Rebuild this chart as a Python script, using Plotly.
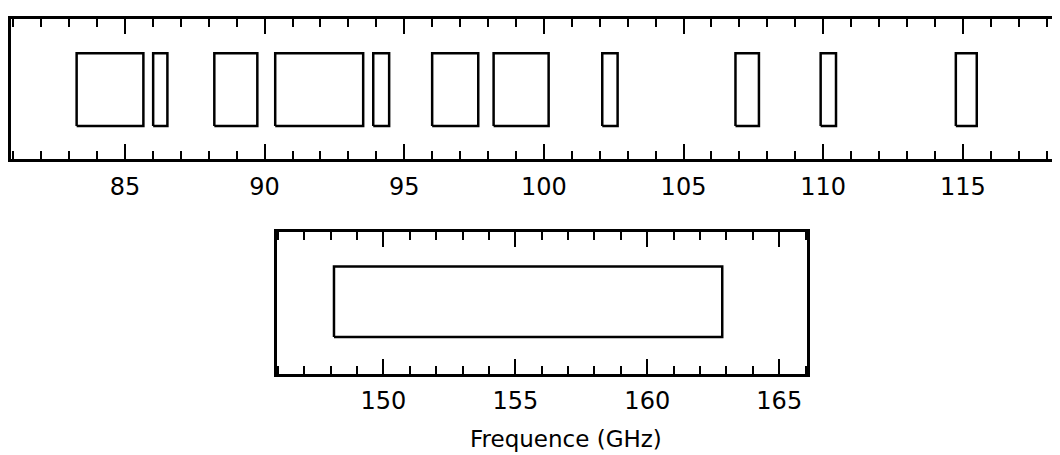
import plotly.graph_objects as go

# ---- data ----
# top panel: bands (GHz)
top_band_lo = [83.27, 86.01, 88.20, 90.38, 93.89, 96.00, 98.20, 102.09, 106.86, 109.91, 114.75]
top_band_hi = [85.66, 86.52, 89.74, 93.53, 94.46, 97.65, 100.17, 102.64, 107.70, 110.46, 115.50]
top_ticks = [85, 90, 95, 100, 105, 110, 115]
top_range = [80.92, 118.48]

# bottom panel
bot_band_lo = [148.13]
bot_band_hi = [162.84]
bot_ticks = [150, 155, 160, 165]
bot_range = [145.96, 166.04]

band_y = [0.234, 0.752]
bot_band_y = [0.257, 0.754]
x_title = "Frequence (GHz)"

fig = go.Figure()

def add_boxes(lo, hi, yy, xa, ya):
    for a, b in zip(lo, hi):
        fig.add_trace(go.Scatter(
            x=[a, b, b, a, a], y=[yy[0], yy[0], yy[1], yy[1], yy[0]],
            mode="lines", line=dict(color="black", width=2.5),
            xaxis=xa, yaxis=ya, showlegend=False, hoverinfo="skip"))

add_boxes(top_band_lo, top_band_hi, band_y, "x", "y")
add_boxes(bot_band_lo, bot_band_hi, bot_band_y, "x2", "y2")

# page body has an 8px margin: the figure occupies window pixels 8..1060 / 8..455
OFF = 8
W, H = 1060 - OFF, 455 - OFF


def fx(px):
    return (px - OFF) / W


def fy(py):
    return (H - (py - OFF)) / H


font = dict(family="DejaVu Sans", size=24, color="black")

xcommon = dict(
    showline=True, linecolor="black", linewidth=3, mirror="ticks",
    ticks="inside", ticklen=15, tickwidth=2, tickcolor="black",
    showgrid=False, zeroline=False, tickfont=font,
    minor=dict(dtick=1, ticks="inside", ticklen=8, tickwidth=2, tickcolor="black", showgrid=False),
    ticklabelstandoff=4,
)
ycommon = dict(range=[0, 1], showline=True, linecolor="black", linewidth=3,
               showticklabels=False, ticks="", showgrid=False, zeroline=False)

fig.update_layout(
    width=W, height=H,
    margin=dict(l=0, r=0, t=0, b=0),
    paper_bgcolor="white", plot_bgcolor="white",
    xaxis=dict(domain=[fx(11), 1.0], range=top_range, tickvals=top_ticks,
               ticktext=[str(t) for t in top_ticks], anchor="y", **xcommon),
    yaxis=dict(domain=[fy(159), fy(18.5)], anchor="x", mirror=False, **ycommon),
    xaxis2=dict(domain=[fx(276.7), fx(806.7)], range=bot_range, tickvals=bot_ticks,
                ticktext=[str(t) for t in bot_ticks], anchor="y2", **xcommon),
    yaxis2=dict(domain=[fy(373.5), fy(231.5)], anchor="x2", mirror=True, **ycommon),
    annotations=[dict(text=x_title, x=fx(566), y=fy(439), xref="paper", yref="paper",
                      showarrow=False, font=dict(family="DejaVu Sans", size=23, color="black"),
                      xanchor="center", yanchor="middle")],
)

fig.write_html("out.html")
